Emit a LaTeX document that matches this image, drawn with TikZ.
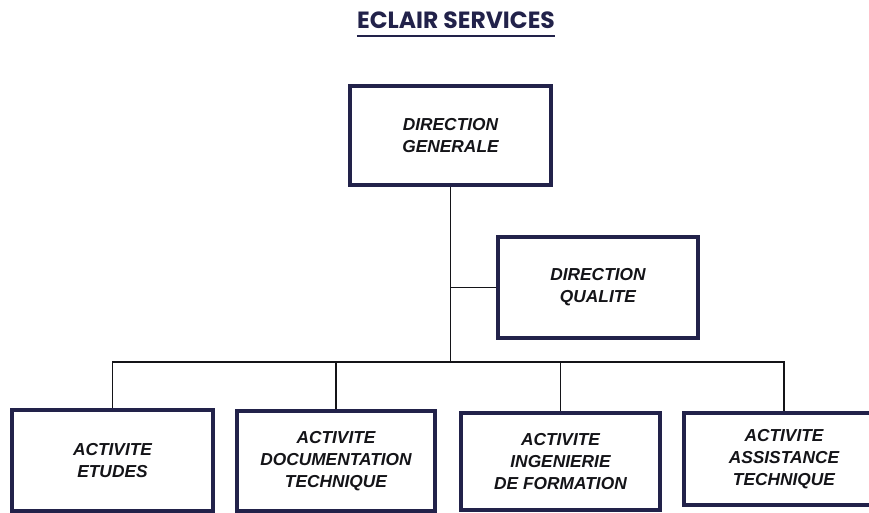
\documentclass[tikz,border=0pt]{standalone}
\usepackage{fontspec}
\setmainfont{Liberation Sans}
\newfontfamily\titlefont{Poppins}
\definecolor{navy}{HTML}{22224A}
\definecolor{ink}{HTML}{141418}
\begin{document}
\begin{tikzpicture}[x=0.75pt,y=-0.75pt,
  box/.style={draw=navy,line width=2.3pt,rectangle,inner sep=0pt,
    align=center,text=ink,font=\fontsize{13pt}{16.5pt}\selectfont\bfseries\itshape},
  link/.style={draw=ink,line width=1.1pt}]
\clip (0,0) rectangle (869,513);
\fill[white] (0,0) rectangle (869,513);
\node[text=navy,font=\titlefont\fontsize{17.6pt}{20pt}\selectfont\bfseries,anchor=base,inner sep=0pt] (title) at (456,29) {ECLAIR SERVICES};
\draw[navy,line width=1.6pt] (title.base west |- 0,36) -- (title.base east |- 0,36);
\node[box,minimum width=201*0.75pt,minimum height=99*0.75pt] (dg) at (450.5,135.5) {DIRECTION\\GENERALE};
\node[box,minimum width=200*0.75pt,minimum height=101*0.75pt] (dq) at (598,287.5) {DIRECTION\\QUALITE};
\node[box,minimum width=201*0.75pt,minimum height=101*0.75pt] (b1) at (112.5,460.5) {ACTIVITE\\ETUDES};
\node[box,minimum width=198*0.75pt,minimum height=100*0.75pt] (b2) at (336,461) {ACTIVITE\\DOCUMENTATION\\TECHNIQUE};
\node[box,minimum width=199*0.75pt,minimum height=97*0.75pt] (b3) at (560.5,461.5) {ACTIVITE\\INGENIERIE\\DE FORMATION};
\node[box,minimum width=200*0.75pt,minimum height=92*0.75pt] (b4) at (784,459) {ACTIVITE\\ASSISTANCE\\TECHNIQUE};
\coordinate (bus) at (450,362);
\draw[link] (dg.south) -- (dg.south |- bus);
\draw[link] (dq.west) -- (dq.west -| dg.south);
\draw[link] (b1.north) -- (b1.north |- bus) -- (b4.north |- bus) -- (b4.north);
\draw[link] (b2.north) -- (b2.north |- bus);
\draw[link] (b3.north) -- (b3.north |- bus);
\end{tikzpicture}
\end{document}
